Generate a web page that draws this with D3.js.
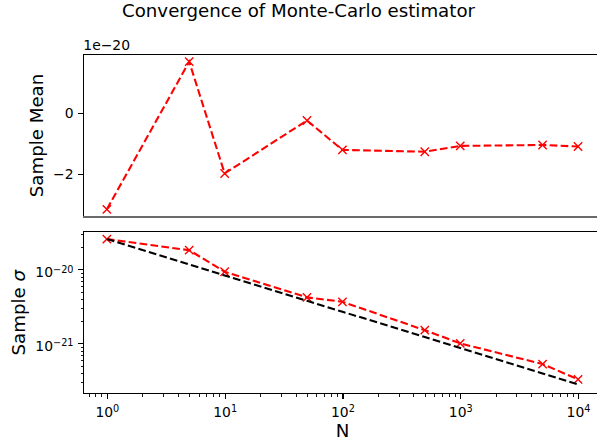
<!DOCTYPE html>
<html><head><meta charset="utf-8">
<script src="https://cdn.jsdelivr.net/npm/d3@7"></script>
<style>
body{margin:0;background:#fff}
svg{display:block}
text{font-family:"DejaVu Sans",sans-serif;fill:#000}
</style>
</head><body>
<svg id="c" width="597" height="440"></svg>
<script>
// ---- data ----
const N = [1, 5, 10, 50, 100, 500, 1000, 5000, 10000];
const sampleMean = [-3.15e-20, 1.67e-20, -1.98e-20, -0.25e-20, -1.21e-20, -1.27e-20, -1.08e-20, -1.05e-20, -1.10e-20];
const sampleSigma = [2.57e-20, 1.82e-20, 9.3e-21, 4.19e-21, 3.65e-21, 1.51e-21, 1.0e-21, 5.25e-22, 3.27e-22];
const refSigma = [2.57e-20, 1.167e-20, 8.30e-21, 3.77e-21, 2.68e-21, 1.22e-21, 8.65e-22, 3.93e-22, 2.79e-22];
const meanTicks = [-2e-20, 0];
const meanTickLabels = ["\u22122", "0"];
const meanOffsetLabel = "1e\u221220";
const xTicks = [1, 10, 100, 1000, 10000];
const xTickExp = ["0", "1", "2", "3", "4"];
const sigmaTicks = [1e-21, 1e-20];
const sigmaTickExp = ["\u221221", "\u221220"];
const titleText = "Convergence of Monte-Carlo estimator";
const xLabel = "N";
const meanLabel = "Sample Mean";

// ---- layout ----
const L = 83.3, R = 601.6;
const top1 = 54.3, bot1 = 216.7;
const top2 = 231.7, bot2 = 393.7;
const majorLen = 4.9, minorLen = 2.8, pad = 4.9;
const tickFont = 13.9, labelFont = 18.2;

const svg = d3.select("#c");

const x = d3.scaleLog().domain([Math.pow(10, -0.2), Math.pow(10, 4.2)]).range([L, R]);
const y1 = d3.scaleLinear().domain([-3.391e-20, 1.911e-20]).range([bot1, top1]);
const y2 = d3.scaleLog().domain([Math.pow(10, -21.68), Math.pow(10, -19.49)]).range([bot2, top2]);

function minorLogTicks(scale) {
  const [a, b] = scale.domain();
  const out = [];
  for (let d = Math.floor(Math.log10(a)) - 1; d <= Math.ceil(Math.log10(b)); d++) {
    for (let k = 2; k <= 9; k++) {
      const v = k * Math.pow(10, d);
      if (v >= a && v <= b) out.push(v);
    }
  }
  return out;
}

function styleAxis(g) {
  g.select(".domain").remove();
  g.selectAll(".tick line").attr("stroke", "#000").attr("stroke-width", 1.1).attr("shape-rendering", "crispEdges");
  g.selectAll(".tick text").attr("font-size", tickFont).attr("font-family", "DejaVu Sans");
}

// ---- top panel: sample mean ----
const gy1 = svg.append("g").attr("transform", `translate(${L},0)`)
  .call(d3.axisLeft(y1).tickValues(meanTicks).tickSize(majorLen).tickPadding(pad).tickSizeOuter(0)
    .tickFormat((d, i) => meanTickLabels[i]));
styleAxis(gy1);

svg.append("text").attr("x", L).attr("y", 49.5).attr("font-size", tickFont).text(meanOffsetLabel);

// ---- bottom panel: sigma ----
const gx = svg.append("g").attr("transform", `translate(0,${bot2})`)
  .call(d3.axisBottom(x).tickValues(xTicks).tickSize(majorLen).tickPadding(pad).tickSizeOuter(0).tickFormat(() => "10"));
styleAxis(gx);
gx.selectAll(".tick text").each(function (d, i) {
  d3.select(this).append("tspan").attr("dy", "-0.45em").attr("font-size", "70%").text(xTickExp[i]);
}).attr("dy", "0.95em");

const gxm = svg.append("g").attr("transform", `translate(0,${bot2})`)
  .call(d3.axisBottom(x).tickValues(minorLogTicks(x)).tickSize(minorLen).tickFormat("").tickSizeOuter(0));
styleAxis(gxm);
gxm.selectAll(".tick line").attr("stroke-width", 0.9);

const gy2 = svg.append("g").attr("transform", `translate(${L},0)`)
  .call(d3.axisLeft(y2).tickValues(sigmaTicks).tickSize(majorLen).tickPadding(pad).tickSizeOuter(0).tickFormat(() => "10"));
styleAxis(gy2);
gy2.selectAll(".tick text").each(function (d, i) {
  d3.select(this).append("tspan").attr("dy", "-0.45em").attr("font-size", "70%").text(sigmaTickExp[i]);
}).attr("dy", "0.5em");

const gy2m = svg.append("g").attr("transform", `translate(${L},0)`)
  .call(d3.axisLeft(y2).tickValues(minorLogTicks(y2)).tickSize(minorLen).tickFormat("").tickSizeOuter(0));
styleAxis(gy2m);
gy2m.selectAll(".tick line").attr("stroke-width", 0.9);

// ---- lines ----
const lw = 2.08, dash = "7.7,3.3";
function drawLine(ys, vals, color) {
  const line = d3.line().x((d, i) => x(N[i])).y(d => ys(d));
  svg.append("path").datum(vals).attr("d", line).attr("fill", "none")
    .attr("stroke", color).attr("stroke-width", lw).attr("stroke-dasharray", dash);
}
function drawMarkers(ys, vals, color) {
  const h = 4.17;
  svg.append("g").selectAll("path").data(vals).join("path")
    .attr("d", (d, i) => {
      const cx = x(N[i]), cy = ys(d);
      return `M${cx - h},${cy - h}L${cx + h},${cy + h}M${cx - h},${cy + h}L${cx + h},${cy - h}`;
    })
    .attr("fill", "none").attr("stroke", color).attr("stroke-width", 1.39);
}

drawLine(y1, sampleMean, "#ff0000");
drawMarkers(y1, sampleMean, "#ff0000");

drawLine(y2, sampleSigma, "#ff0000");
drawMarkers(y2, sampleSigma, "#ff0000");
drawLine(y2, refSigma, "#000000");

// ---- spines ----
function spine(x1, y1_, x2, y2_, color, w) {
  svg.append("line").attr("x1", x1).attr("y1", y1_).attr("x2", x2).attr("y2", y2_)
    .attr("stroke", color || "#000").attr("stroke-width", w || 1.1).attr("shape-rendering", "crispEdges");
}
spine(L, top1, R, top1);
spine(L, top1, L, bot1);
spine(R, top1, R, bot1);
spine(L, bot1, R, bot1, "#6a6a6a", 2);
spine(L, top2, R, top2);
spine(L, top2, L, bot2);
spine(R, top2, R, bot2);
spine(L, bot2, R, bot2);

// ---- labels ----
svg.append("text").attr("x", 298.5).attr("y", 17).attr("text-anchor", "middle").attr("font-size", labelFont).text(titleText);
svg.append("text").attr("x", (L + R) / 2).attr("y", 437).attr("text-anchor", "middle").attr("font-size", labelFont).text(xLabel);
svg.append("text").attr("transform", `translate(42.5,${(top1 + bot1) / 2}) rotate(-90)`)
  .attr("text-anchor", "middle").attr("font-size", labelFont).text(meanLabel);
const sl = svg.append("text").attr("transform", `translate(25,${(top2 + bot2) / 2}) rotate(-90)`)
  .attr("text-anchor", "middle").attr("font-size", labelFont);
sl.append("tspan").text("Sample ");
sl.append("tspan").attr("font-style", "italic").text("\u03c3");
</script>
</body></html>
